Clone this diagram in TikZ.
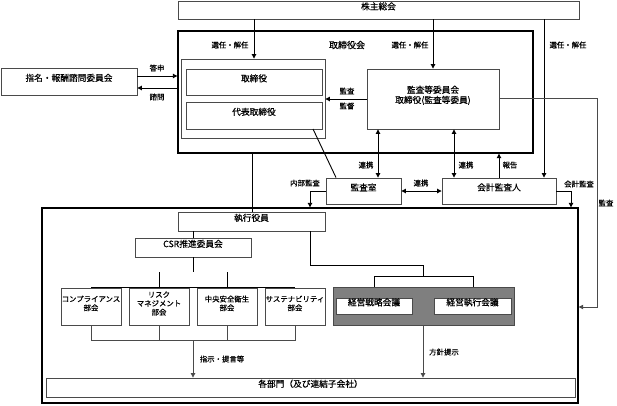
\documentclass[tikz,border=0pt]{standalone}
\usepackage{fontspec}
\setmainfont{Noto Sans CJK JP}[FakeBold=0.5]
\usetikzlibrary{arrows.meta,fit}
\definecolor{boxline}{HTML}{4A4A4A}
\definecolor{grayfill}{HTML}{7F7F7F}
\tikzset{
  box/.style={draw=boxline, line width=0.9pt, fill=white, inner sep=0pt, align=center, font=\fontsize{8.7}{10.2}\selectfont},
  bigbox/.style={draw=black, line width=1.4pt, inner sep=0pt},
  smallbox/.style={box, font=\fontsize{7.4}{8.8}\selectfont},
  conn/.style={draw=black, line width=0.9pt},
  gconn/.style={draw=boxline, line width=0.8pt},
  arr/.style={-{Triangle[length=4.5pt,width=4.5pt]}},
  darr/.style={{Triangle[length=4.5pt,width=4.5pt]}-{Triangle[length=4.5pt,width=4.5pt]}},
  lbl/.style={font=\fontsize{7.4}{8.8}\selectfont, inner sep=0pt},
}
\begin{document}
\begin{tikzpicture}[x=1pt,y=-1pt]
\useasboundingbox (0,0) rectangle (617,405);
% big frames
\node[bigbox, fit={(178,31) (533,153)}] (bd) {};
\node[bigbox, fit={(42,208) (578,403)}] (main) {};
% boxes
\node[box, fit={(178,1) (579,19)}] (sh) {株主総会};
\node[box, fit={(181,59) (325,138)}] (grp) {};
\node[box, fit={(186,69) (322,95)}] (dir) {取締役};
\node[box, fit={(186,102) (322,129)}] (rep) {代表取締役};
\node[box, fit={(367,69) (499,129)}] (ac) {監査等委員会\\取締役(監査等委員)};
\node[box, fit={(1,68) (137,95)}] (nom) {指名・報酬諮問委員会};
\node[box, fit={(326,178) (401,204)}] (aud) {監査室};
\node[box, fit={(442,178) (556,204)}] (ext) {会計監査人};
\node[box, fit={(178,212) (325,231)}] (exe) {執行役員};
\node[box, fit={(135,238) (251,257)}] (csr) {CSR推進委員会};
\node[smallbox, fit={(61,288) (121,325)}] (c1) {コンプライアンス\\部会};
\node[smallbox, fit={(129,288) (189,325)}] (c2) {リスク\\マネジメント\\部会};
\node[smallbox, fit={(197,288) (257,325)}] (c3) {中央安全衛生\\部会};
\node[smallbox, fit={(265,288) (325,325)}] (c4) {サステナビリティ\\部会};
\node[box, fill=grayfill, fit={(333,287) (514,325)}] (gray) {};
\node[box, fit={(336,298) (412,314)}] (m1) {経営戦略会議};
\node[box, fit={(434,298) (511,314)}] (m2) {経営執行会議};
\node[box, fit={(46,378) (575,397)}] (dept) {各部門（及び連結子会社）};
% labels
\node[font=\fontsize{9}{10.5}\selectfont, inner sep=0pt] (bdl) at (347,45) {取締役会};
\node[lbl] (l1) at (230,45) {選任・解任};
\node[lbl] (l2) at (410,45) {選任・解任};
\node[lbl] (l3) at (568,45) {選任・解任};
\node[lbl] (l4) at (157,68) {答申};
\node[lbl] (l5) at (157,97) {諮問};
\node[lbl] (l6) at (347,91) {監査};
\node[lbl] (l7) at (347,106) {監督};
\node[lbl] (l8) at (606,203) {監査};
\node[lbl] (l9) at (366,165) {連携};
\node[lbl] (l10) at (466,165) {連携};
\node[lbl] (l11) at (421,183) {連携};
\node[lbl] (l12) at (510,165) {報告};
\node[lbl] (l13) at (305,183) {内部監査};
\node[lbl] (l14) at (579,184) {会計監査};
\node[lbl] (l15) at (222,359) {指示・提言等};
\node[lbl] (l16) at (444,352) {方針提示};
% coordinates
\coordinate (acr) at (597,98);
\coordinate (acd) at (597,307);
\coordinate (ia) at (310,191);
\coordinate (ea) at (571,191);
\coordinate (eb1) at (310,265);
\coordinate (eb2) at (423,265);
\coordinate (eb3) at (423,276);
\coordinate (cb) at (193,272);
\coordinate (cl) at (193,340);
% connectors
\draw[conn,arr] (sh.south -| 254,0) -- (grp.north -| 254,0);
\draw[conn,arr] (sh.south -| 433,0) -- (ac.north -| 433,0);
\draw[conn,arr] (sh.south -| 544,0) -- (ext.north -| 544,0);
\draw[conn,arr] (nom.east |- 0,76) -- (bd.west |- 0,76);
\draw[conn,arr] (bd.west |- 0,88) -- (nom.east |- 0,88);
\draw[conn,arr] (ac.west |- 0,99) -- (grp.east |- 0,99);
\draw[gconn,arr] (ac.east |- acr) -- (acr) -- (acd) -- (main.east |- acd);
\draw[conn] (313,129) -- (aud.north -| 336,0);
\draw[conn,darr] (ac.south -| 378,0) -- (aud.north -| 378,0);
\draw[conn,darr] (ac.south -| 454,0) -- (ext.north -| 454,0);
\draw[conn,darr] (aud.east |- 0,191) -- (ext.west |- 0,191);
\draw[conn,arr] (ext.north -| 499,0) -- (bd.south -| 499,0);
\draw[conn,arr] (aud.west |- ia) -- (ia) -- (main.north -| ia);
\draw[conn,arr] (ext.east |- ea) -- (ea) -- (main.north -| ea);
\draw[conn] (bd.south -| 252,0) -- (exe.north -| 252,0);
\draw[conn] (exe.south -| 193,0) -- (csr.north -| 193,0);
\draw[conn] (csr.south -| 193,0) -- (cb);
\draw[conn] (c1.north -| 91,0) |- (c4.north -| 295,272) -- (c4.north -| 295,0);
\draw[conn] (c2.north -| 159,0) -- (159,272);
\draw[conn] (c3.north -| 227,0) -- (227,272);
\draw[gconn] (c1.south -| 91,0) |- (295,340) -- (c4.south -| 295,0);
\draw[gconn] (c2.south -| 159,0) -- (159,340);
\draw[gconn] (c3.south -| 227,0) -- (227,340);
\draw[gconn,arr] (cl) -- (dept.north -| cl);
\draw[conn] (exe.south -| eb1) -- (eb1) -- (eb2) -- (eb3);
\draw[conn] (gray.north -| 374,0) |- (473,276) -- (gray.north -| 473,0);
\draw[gconn,arr] (gray.south -| 423,0) -- (dept.north -| 423,0);
\end{tikzpicture}
\end{document}
